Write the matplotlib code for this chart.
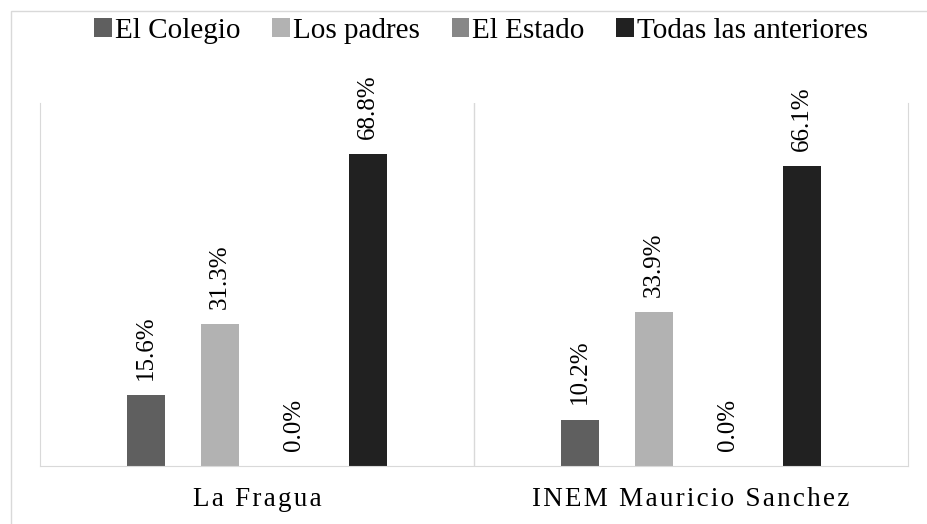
import matplotlib.pyplot as plt
import numpy as np
from matplotlib.patches import Rectangle

plt.rcParams['font.family'] = ['Liberation Serif', 'DejaVu Serif']

categories = ['La Fragua', 'INEM Mauricio Sanchez']
series = ['El Colegio', 'Los padres', 'El Estado', 'Todas las anteriores']
values = [
    [15.6, 10.2],   # El Colegio
    [31.3, 33.9],   # Los padres
    [0.0, 0.0],     # El Estado
    [68.8, 66.1],   # Todas las anteriores
]
colors = ['#5f5f5f', '#b2b2b2', '#878787', '#212121']

W, H = 927, 524
fig = plt.figure(figsize=(W / 100, H / 100), dpi=100)
ax = fig.add_axes([40 / W, 1 - 466 / H, 868 / W, 363 / H])

# outer chart border
fig.patches.append(Rectangle((11 / W, -0.1), 1.2, 1 - 11 / H + 0.1,
                             transform=fig.transFigure, fill=False,
                             edgecolor='#d9d9d9', linewidth=1))

x = np.arange(len(categories))
step = 0.1705
width = 0.0876
for i, (name, vals) in enumerate(zip(series, values)):
    pos = x + (i - 1.5) * step
    ax.bar(pos, vals, width, color=colors[i], label=name)
    for p, v in zip(pos, vals):
        ax.annotate(f'{v:.1f}%', (p, v), xytext=(0, 11), textcoords='offset points',
                    rotation=90, ha='center', va='bottom', fontsize=18)

ax.set_xlim(-0.5, 1.5)
ax.set_ylim(0, 80)
ax.set_yticks([])
ax.set_xticks([])
for s in ['left', 'right', 'bottom']:
    ax.spines[s].set_color('#d9d9d9')
ax.spines['top'].set_visible(False)
ax.axvline(0.5, color='#d9d9d9', linewidth=1)

# letter-spaced category labels
hs = '\u200a'
for xi, cat in zip(x, categories):
    ax.text(xi, -0.058, hs.join(cat), transform=ax.get_xaxis_transform(),
            ha='center', va='top', fontsize=19.5)

fig.legend(loc='center', bbox_to_anchor=(481 / W, 1 - 31 / H), ncol=4,
           frameon=False, fontsize=21, handlelength=0.6, handleheight=0.6,
           handletextpad=0.1, columnspacing=1.1)

fig.savefig('out.png', dpi=100)
